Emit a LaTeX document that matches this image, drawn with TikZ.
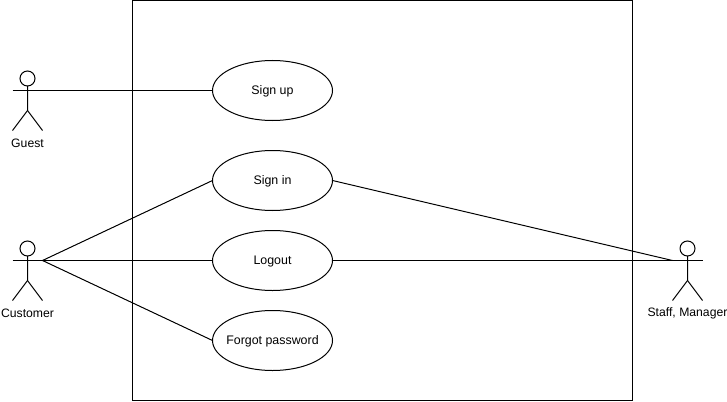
\documentclass[tikz,border=0pt]{standalone}
\usepackage{fontspec}
\setmainfont{Liberation Sans}
\usetikzlibrary{shapes.geometric}
\begin{document}
\begin{tikzpicture}[x=1pt,y=-1pt,line width=1pt,
    usecase/.style={draw=black,fill=white,ellipse,inner xsep=-20pt,inner ysep=0pt,outer sep=0pt,
      minimum width=120pt,minimum height=60pt,text height=10pt,text depth=2pt,
      font=\fontsize{12.4pt}{14pt}\selectfont},
    actorlabel/.style={inner sep=0pt,font=\fontsize{12.2pt}{14pt}\selectfont}]
  \useasboundingbox (0,0) rectangle (727,401);
  \path[draw=black,fill=white] (132.5,0.5) rectangle (632.5,400.5);
  \node[usecase] (signup) at (272.5,90.5) {Sign up};
  \node[usecase] (signin) at (272.5,180.5) {Sign in};
  \node[usecase] (logout) at (272.5,260.5) {Logout};
  \node[usecase] (forgot) at (272.5,340.5) {Forgot password};
  \begin{scope}[shift={(27.5,90.5)}]
    \path[draw=black] (0,-12) circle [radius=7.5];
    \path[draw=black] (0,-4.5) -- (0,20) -- (-15,40);
    \path[draw=black] (0,20) -- (15,40);
    \path[draw=black] (-15,0) -- (15,0);
    \coordinate (guest) at (15,0);
    \node[actorlabel] (guestlabel) at (0,53) {Guest};
  \end{scope}
  \begin{scope}[shift={(27.5,260.5)}]
    \path[draw=black] (0,-12) circle [radius=7.5];
    \path[draw=black] (0,-4.5) -- (0,20) -- (-15,40);
    \path[draw=black] (0,20) -- (15,40);
    \path[draw=black] (-15,0) -- (15,0);
    \coordinate (customer) at (15,0);
    \node[actorlabel] (customerlabel) at (0,53) {Customer};
  \end{scope}
  \begin{scope}[shift={(687.5,260.5)}]
    \path[draw=black] (0,-12) circle [radius=7.5];
    \path[draw=black] (0,-4.5) -- (0,20) -- (-15,40);
    \path[draw=black] (0,20) -- (15,40);
    \path[draw=black] (-15,0) -- (15,0);
    \coordinate (staff) at (-15,0);
    \node[actorlabel] (stafflabel) at (0,53) {Staff, Manager};
  \end{scope}
  \draw (guest) -- (signup.west);
  \draw (customer) -- (signin.west);
  \draw (customer) -- (logout.west);
  \draw (customer) -- (forgot.west);
  \draw (signin.east) -- (staff);
  \draw (logout.east) -- (staff);
\end{tikzpicture}
\end{document}
